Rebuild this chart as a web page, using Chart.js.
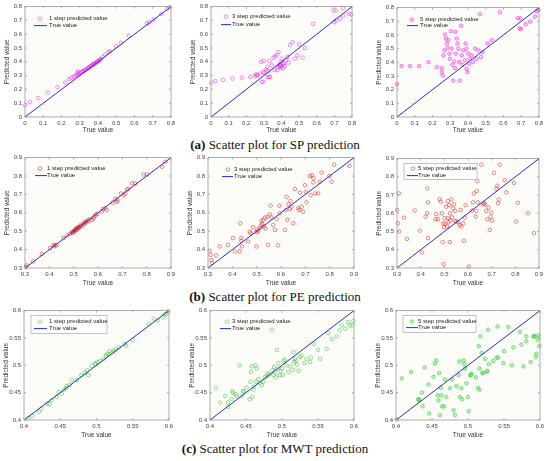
<!DOCTYPE html>
<html><head><meta charset="utf-8">
<script src="https://cdn.jsdelivr.net/npm/chart.js@4.4.0/dist/chart.umd.min.js"></script>
<style>
html,body{margin:0;padding:0;background:#fff;}
#fig{position:relative;width:550px;height:461px;overflow:hidden;background:#fff;}
.panel{position:absolute;}
.cap{position:absolute;left:0;width:550px;text-align:center;font-family:"Liberation Serif","Times New Roman",serif;font-size:13px;color:#111;line-height:14px;white-space:nowrap;}
</style></head><body>
<div id="fig">
<div class="cap" style="top:138px"><b>(a)</b> Scatter plot for SP prediction</div>
<div class="cap" style="top:290px"><b>(b)</b> Scatter plot for PE prediction</div>
<div class="cap" style="top:442px"><b>(c)</b> Scatter plot for MWT prediction</div>
</div>
<script>
// ---------- tick values ----------
const SP_TICKS  = [0,0.1,0.2,0.3,0.4,0.5,0.6,0.7,0.8];
const PE_TICKS  = [0.3,0.4,0.5,0.6,0.7,0.8,0.9];
const MWT_TICKS = [0.4,0.45,0.5,0.55,0.6];

// ---------- series: [true value, predicted value] ----------
const SP_1 = [[0,0.084],[0.027,0.108],[0.073,0.137],[0.125,0.178],[0.178,0.216],[0.22,0.25],[0.242,0.274],[0.253,0.284],[0.266,0.29],[0.275,0.298],[0.288,0.32],[0.298,0.31],[0.31,0.327],[0.32,0.334],[0.33,0.34],[0.342,0.351],[0.353,0.363],[0.36,0.37],[0.372,0.38],[0.381,0.387],[0.394,0.399],[0.403,0.406],[0.412,0.416],[0.425,0.435],[0.44,0.452],[0.458,0.471],[0.467,0.476],[0.5,0.514],[0.526,0.538],[0.568,0.589],[0.668,0.68],[0.681,0.685],[0.705,0.707],[0.747,0.748],[0.778,0.781],[0.793,0.796],
  [0.285,0.305],[0.29,0.332],[0.292,0.315],[0.305,0.318],[0.315,0.33],[0.325,0.336],[0.335,0.345],[0.345,0.355],[0.35,0.358],[0.365,0.372],[0.37,0.376],[0.378,0.383],[0.385,0.39],[0.39,0.395],[0.398,0.402],[0.408,0.41],[0.415,0.42]];
const SP_3 = [[0,0.248],[0.024,0.26],[0.068,0.269],[0.122,0.279],[0.175,0.286],[0.222,0.291],[0.25,0.296],[0.256,0.31],[0.264,0.303],[0.279,0.315],[0.284,0.4],[0.288,0.255],[0.297,0.255],[0.297,0.327],[0.3,0.406],[0.312,0.344],[0.32,0.363],[0.326,0.332],[0.331,0.406],[0.335,0.291],[0.345,0.375],[0.354,0.43],[0.363,0.44],[0.373,0.452],[0.377,0.339],[0.383,0.471],[0.388,0.368],[0.395,0.4],[0.397,0.375],[0.401,0.423],[0.407,0.351],[0.414,0.387],[0.42,0.368],[0.426,0.411],[0.433,0.435],[0.439,0.394],[0.448,0.522],[0.463,0.543],[0.476,0.423],[0.49,0.447],[0.5,0.526],[0.52,0.43],[0.533,0.5],[0.58,0.675],[0.694,0.772],[0.7,0.688],[0.708,0.772],[0.711,0.7],[0.734,0.712],[0.749,0.79],[0.75,0.736],[0.783,0.748],[0.796,0.743],
  [0.26,0.3],[0.3,0.32],[0.32,0.29],[0.33,0.29],[0.39,0.38],[0.395,0.37],[0.4,0.36],[0.41,0.39],[0.36,0.34],[0.38,0.36]];
const SP_5 = [[0,0.241],[0.026,0.372],[0.073,0.372],[0.124,0.372],[0.177,0.401],[0.224,0.365],[0.252,0.357],[0.252,0.328],[0.258,0.303],[0.261,0.451],[0.267,0.488],[0.27,0.603],[0.276,0.574],[0.28,0.537],[0.285,0.505],[0.289,0.562],[0.295,0.463],[0.298,0.426],[0.304,0.628],[0.308,0.5],[0.312,0.382],[0.317,0.266],[0.323,0.406],[0.327,0.357],[0.33,0.623],[0.33,0.463],[0.336,0.574],[0.341,0.537],[0.345,0.5],[0.351,0.401],[0.355,0.266],[0.36,0.667],[0.364,0.451],[0.369,0.382],[0.373,0.488],[0.383,0.414],[0.387,0.537],[0.392,0.5],[0.392,0.352],[0.397,0.328],[0.401,0.463],[0.405,0.389],[0.41,0.426],[0.42,0.451],[0.429,0.401],[0.439,0.5],[0.448,0.426],[0.458,0.488],[0.467,0.751],[0.473,0.438],[0.482,0.475],[0.51,0.537],[0.533,0.562],[0.58,0.766],[0.68,0.722],[0.69,0.648],[0.699,0.643],[0.725,0.677],[0.75,0.697],[0.778,0.734],[0.788,0.771],[0.797,0.783],[0.695,0.722]];

const PE_1 = [[0.863,0.85],[0.877,0.877],[0.788,0.808],[0.801,0.808],[0.74,0.76],[0.753,0.76],[0.719,0.727],[0.712,0.705],[0.694,0.705],[0.705,0.696],[0.671,0.675],[0.678,0.66],[0.636,0.615],[0.616,0.606],[0.598,0.594],[0.582,0.57],[0.575,0.561],[0.561,0.556],[0.547,0.543],[0.534,0.529],[0.524,0.52],[0.513,0.516],[0.506,0.507],[0.499,0.498],[0.492,0.495],[0.485,0.486],[0.472,0.477],[0.458,0.462],[0.424,0.423],[0.417,0.426],[0.403,0.408],[0.369,0.376],[0.334,0.336],[0.307,0.314],[0.304,0.305],
  [0.495,0.49],[0.5,0.497],[0.503,0.505],[0.508,0.503],[0.51,0.512],[0.515,0.51],[0.518,0.52],[0.52,0.523],[0.527,0.525],[0.53,0.535],[0.54,0.538],[0.545,0.55],[0.55,0.548],[0.555,0.556],[0.565,0.565],[0.585,0.58],[0.59,0.59],[0.62,0.62],[0.63,0.625],[0.66,0.655],[0.68,0.67],[0.725,0.73],[0.43,0.425],[0.42,0.418]];
const PE_3 = [[0.307,0.394],[0.311,0.372],[0.314,0.343],[0.316,0.327],[0.334,0.368],[0.348,0.417],[0.382,0.426],[0.403,0.462],[0.41,0.39],[0.43,0.39],[0.433,0.543],[0.437,0.462],[0.437,0.448],[0.44,0.417],[0.465,0.444],[0.472,0.498],[0.475,0.489],[0.485,0.522],[0.499,0.417],[0.499,0.495],[0.502,0.507],[0.506,0.498],[0.513,0.516],[0.517,0.531],[0.52,0.556],[0.523,0.538],[0.527,0.561],[0.529,0.525],[0.534,0.574],[0.536,0.516],[0.543,0.579],[0.547,0.426],[0.554,0.592],[0.557,0.639],[0.561,0.574],[0.568,0.534],[0.575,0.507],[0.582,0.565],[0.588,0.423],[0.593,0.639],[0.595,0.597],[0.616,0.507],[0.62,0.615],[0.623,0.687],[0.626,0.561],[0.63,0.646],[0.637,0.621],[0.639,0.664],[0.643,0.633],[0.65,0.543],[0.657,0.729],[0.671,0.624],[0.675,0.615],[0.678,0.709],[0.685,0.633],[0.69,0.606],[0.698,0.75],[0.702,0.714],[0.705,0.657],[0.719,0.8],[0.722,0.696],[0.727,0.804],[0.733,0.765],[0.733,0.787],[0.74,0.705],[0.753,0.705],[0.76,0.769],[0.767,0.819],[0.799,0.8],[0.808,0.769],[0.818,0.862],[0.881,0.855]];
const PE_5 = [[0.3,0.618],[0.304,0.545],[0.308,0.5],[0.308,0.709],[0.33,0.576],[0.342,0.46],[0.375,0.615],[0.396,0.505],[0.406,0.385],[0.421,0.582],[0.427,0.6],[0.428,0.736],[0.431,0.66],[0.431,0.464],[0.463,0.567],[0.466,0.596],[0.473,0.569],[0.48,0.678],[0.485,0.664],[0.49,0.6],[0.493,0.442],[0.496,0.545],[0.497,0.322],[0.499,0.524],[0.501,0.573],[0.504,0.542],[0.508,0.636],[0.511,0.527],[0.515,0.667],[0.515,0.573],[0.518,0.551],[0.52,0.645],[0.523,0.442],[0.524,0.6],[0.525,0.56],[0.53,0.676],[0.532,0.578],[0.537,0.627],[0.541,0.649],[0.544,0.558],[0.546,0.613],[0.551,0.555],[0.558,0.551],[0.565,0.536],[0.569,0.618],[0.572,0.527],[0.579,0.545],[0.583,0.449],[0.586,0.576],[0.59,0.645],[0.604,0.309],[0.617,0.615],[0.621,0.66],[0.625,0.709],[0.632,0.582],[0.635,0.613],[0.637,0.722],[0.639,0.776],[0.642,0.66],[0.656,0.867],[0.663,0.649],[0.668,0.655],[0.673,0.649],[0.677,0.613],[0.682,0.567],[0.687,0.631],[0.692,0.509],[0.696,0.582],[0.699,0.605],[0.701,0.56],[0.71,0.822],[0.72,0.736],[0.724,0.751],[0.727,0.655],[0.73,0.676],[0.734,0.867],[0.755,0.782],[0.762,0.715],[0.794,0.767],[0.804,0.555],[0.811,0.658],[0.854,0.6],[0.879,0.491]];

const MWT_1 = [[0.406,0.404],[0.411,0.407],[0.421,0.415],[0.424,0.421],[0.432,0.43],[0.435,0.429],[0.438,0.436],[0.445,0.442],[0.448,0.451],[0.452,0.448],[0.455,0.455],[0.458,0.458],[0.459,0.462],[0.463,0.464],[0.466,0.473],[0.473,0.473],[0.479,0.482],[0.484,0.486],[0.487,0.491],[0.489,0.482],[0.493,0.499],[0.498,0.503],[0.499,0.502],[0.501,0.506],[0.505,0.508],[0.51,0.512],[0.513,0.518],[0.515,0.521],[0.517,0.52],[0.518,0.526],[0.522,0.524],[0.524,0.527],[0.527,0.529],[0.531,0.533],[0.539,0.539],[0.541,0.536],[0.55,0.547],[0.572,0.575],[0.579,0.585],[0.585,0.582],[0.592,0.588],[0.594,0.593],[0.596,0.594],[0.599,0.599]];
const MWT_3 = [[0.408,0.459],[0.414,0.432],[0.421,0.444],[0.425,0.424],[0.425,0.432],[0.43,0.438],[0.431,0.453],[0.432,0.45],[0.435,0.447],[0.437,0.444],[0.441,0.5],[0.444,0.444],[0.446,0.453],[0.447,0.452],[0.451,0.459],[0.455,0.438],[0.456,0.47],[0.457,0.488],[0.458,0.498],[0.459,0.442],[0.46,0.456],[0.461,0.461],[0.463,0.5],[0.464,0.47],[0.465,0.494],[0.467,0.475],[0.469,0.467],[0.472,0.464],[0.474,0.47],[0.476,0.478],[0.479,0.48],[0.48,0.485],[0.482,0.483],[0.486,0.565],[0.487,0.491],[0.488,0.482],[0.489,0.497],[0.49,0.488],[0.492,0.478],[0.493,0.528],[0.494,0.494],[0.495,0.504],[0.497,0.482],[0.498,0.49],[0.5,0.494],[0.501,0.482],[0.502,0.508],[0.504,0.51],[0.506,0.5],[0.509,0.488],[0.511,0.498],[0.515,0.492],[0.516,0.524],[0.517,0.506],[0.518,0.512],[0.519,0.508],[0.521,0.501],[0.523,0.49],[0.525,0.515],[0.527,0.518],[0.531,0.504],[0.534,0.512],[0.539,0.506],[0.54,0.514],[0.544,0.539],[0.55,0.528],[0.553,0.512],[0.562,0.53],[0.564,0.559],[0.569,0.548],[0.576,0.553],[0.58,0.564],[0.583,0.573],[0.588,0.567],[0.592,0.579],[0.594,0.573],[0.597,0.573],[0.599,0.581]];
const MWT_5 = [[0.401,0.401],[0.408,0.476],[0.421,0.488],[0.431,0.438],[0.432,0.435],[0.432,0.438],[0.436,0.45],[0.437,0.425],[0.44,0.496],[0.445,0.465],[0.446,0.412],[0.452,0.479],[0.454,0.503],[0.456,0.509],[0.458,0.445],[0.459,0.436],[0.46,0.486],[0.461,0.409],[0.462,0.459],[0.463,0.445],[0.464,0.425],[0.467,0.425],[0.468,0.474],[0.47,0.442],[0.475,0.458],[0.478,0.474],[0.48,0.418],[0.482,0.409],[0.484,0.462],[0.487,0.482],[0.488,0.507],[0.489,0.442],[0.491,0.458],[0.492,0.438],[0.494,0.509],[0.495,0.502],[0.496,0.494],[0.498,0.467],[0.5,0.442],[0.501,0.416],[0.503,0.482],[0.504,0.482],[0.505,0.485],[0.511,0.478],[0.514,0.459],[0.515,0.535],[0.516,0.494],[0.516,0.455],[0.517,0.553],[0.519,0.523],[0.52,0.486],[0.521,0.486],[0.524,0.512],[0.526,0.488],[0.527,0.49],[0.528,0.565],[0.529,0.502],[0.535,0.508],[0.54,0.514],[0.541,0.571],[0.542,0.514],[0.549,0.504],[0.55,0.526],[0.556,0.57],[0.561,0.5],[0.563,0.533],[0.572,0.561],[0.574,0.538],[0.577,0.498],[0.581,0.553],[0.581,0.544],[0.587,0.506],[0.591,0.553],[0.592,0.553],[0.593,0.553],[0.594,0.515],[0.595,0.521],[0.597,0.547],[0.598,0.555],[0.599,0.535]];

// ---------- panel layout & style ----------
const MAG = 'rgba(235,40,235,0.75)', MAG_F = 'rgba(255,90,255,0.35)';
const RED = 'rgba(225,30,30,0.75)';
const GRN = 'rgba(60,200,60,0.8)', GRN_F = 'rgba(90,230,90,0.4)';
const panels = [
  {d:SP_1, t:SP_TICKS, lab:'1 step predicted value', c:MAG, f:'rgba(0,0,0,0)', r:[25,6,171,117], xh:17, lg:{m:[15,12],tx:24,l:[9,22,19]}},
  {d:SP_3, t:SP_TICKS, lab:'3 step predicted value', c:MAG, f:'rgba(0,0,0,0)', r:[211,6,352,117], xh:17, lg:{m:[15,10],tx:21,l:[10,20,18]}},
  {d:SP_5, t:SP_TICKS, lab:'5 step predicted value', c:MAG, f:MAG_F, r:[397,7,539,117], xh:17, lg:{m:[15,12],tx:23,l:[10,21,18]}},
  {d:PE_1, t:PE_TICKS, lab:'1 step predicted value', c:RED, f:'rgba(0,0,0,0)', r:[25,157,171,268], xh:19, lg:{m:[15,11],tx:22,l:[10,22,18]}},
  {d:PE_3, t:PE_TICKS, lab:'3 step predicted value', c:RED, f:'rgba(0,0,0,0)', r:[208,157,354,268], xh:19, lg:{m:[20,12],tx:26,l:[14,25,19]}},
  {d:PE_5, t:PE_TICKS, lab:'5 step predicted value', c:RED, f:'rgba(0,0,0,0)', r:[397,158,539,268], xh:19, lg:{m:[16,10],tx:21,l:[10,21,17],box:[7,5,80,21]}},
  {d:MWT_1, t:MWT_TICKS, lab:'1 step predicted value', c:GRN, f:'rgba(0,0,0,0)', r:[24,310,169,420], xh:19, lg:{m:[16,11],tx:25,l:[10,23,18],box:[7,5,83,23]}},
  {d:MWT_3, t:MWT_TICKS, lab:'3 step predicted value', c:GRN, f:'rgba(0,0,0,0)', r:[210,310,354,420], xh:19, lg:{m:[17,11],tx:22,l:[10,21,18]}},
  {d:MWT_5, t:MWT_TICKS, lab:'5 step predicted value', c:GRN, f:GRN_F, r:[396,310,540,420], xh:19, lg:{m:[16,11],tx:22,l:[10,22,17],box:[7,5,80,22]}}
];

Chart.defaults.font.family = '"Liberation Sans", Arial, sans-serif';
const LINE_C = '#2a2ad8';
const PR = 1.8;

const framePlugin = {
  id:'frame',
  beforeDatasetsDraw(chart){
    const a = chart.chartArea, ctx = chart.ctx;
    ctx.save(); ctx.fillStyle = '#fcfdf8'; ctx.fillRect(a.left, a.top, a.right-a.left, a.bottom-a.top); ctx.restore();
  },
  afterDraw(chart){
    const a = chart.chartArea, ctx = chart.ctx, p = chart.options.plugins.frame;
    ctx.save();
    ctx.strokeStyle = '#9a9a9a'; ctx.lineWidth = 0.8;
    ctx.strokeRect(a.left, a.top, a.right-a.left, a.bottom-a.top);
    const xs = chart.scales.x, ys = chart.scales.y, tl = 2;
    ctx.beginPath();
    xs.ticks.forEach(t=>{const px = xs.getPixelForValue(t.value); ctx.moveTo(px,a.bottom); ctx.lineTo(px,a.bottom-tl); ctx.moveTo(px,a.top); ctx.lineTo(px,a.top+tl);});
    ys.ticks.forEach(t=>{const py = ys.getPixelForValue(t.value); ctx.moveTo(a.left,py); ctx.lineTo(a.left+tl,py); ctx.moveTo(a.right,py); ctx.lineTo(a.right-tl,py);});
    ctx.stroke();
    // legend inside axes
    const g = p.lg, L = a.left, T = a.top;
    if (g.box){ ctx.fillStyle = '#fff'; ctx.fillRect(L+g.box[0], T+g.box[1], g.box[2]-g.box[0], g.box[3]-g.box[1]); ctx.strokeStyle='#a8a8a8'; ctx.lineWidth=0.7; ctx.strokeRect(L+g.box[0], T+g.box[1], g.box[2]-g.box[0], g.box[3]-g.box[1]); }
    ctx.beginPath(); ctx.arc(L+g.m[0], T+g.m[1], PR, 0, Math.PI*2);
    ctx.fillStyle = p.f; ctx.fill(); ctx.strokeStyle = p.c; ctx.lineWidth = 0.7; ctx.stroke();
    ctx.beginPath(); ctx.moveTo(L+g.l[0], T+g.l[2]); ctx.lineTo(L+g.l[1], T+g.l[2]); ctx.strokeStyle = LINE_C; ctx.lineWidth = 1; ctx.stroke();
    ctx.fillStyle = '#222'; ctx.font = '6px "Liberation Sans", Arial, sans-serif'; ctx.textBaseline = 'middle'; ctx.textAlign = 'left';
    ctx.fillText(p.lab, L+g.tx, T+g.m[1]);
    ctx.fillText('True value', L+g.tx, T+g.l[2]);
    ctx.restore();
  }
};

const fig = document.getElementById('fig');
const YW = 25, RP = 8, TP = 6;
panels.forEach(p=>{
  const left = p.r[0]-YW, top = p.r[1]-TP;
  const w = p.r[2]-p.r[0]+YW+RP, h = p.r[3]-p.r[1]+TP+p.xh;
  const div = document.createElement('div'); div.className = 'panel';
  div.style.cssText = `left:${left}px;top:${top}px;width:${w}px;height:${h}px;`;
  const cv = document.createElement('canvas'); div.appendChild(cv); fig.appendChild(div);
  const lo = p.t[0], hi = p.t[p.t.length-1];
  const tickFont = {size:6};
  const axisCommon = (titleText, isY) => ({
    type:'linear', min:lo, max:hi,
    afterBuildTicks: s => { s.ticks = p.t.map(v=>({value:v})); },
    afterFit: s => { if (isY) s.width = YW; else s.height = p.xh; },
    grid:{display:false, drawTicks:false}, border:{display:false},
    ticks:{padding:3, font:tickFont, color:'#444', autoSkip:false, maxRotation:0, callback:(v)=>String(v)},
    title:{display:true, text:titleText, color:'#333', font:{size:6.5}, padding: isY ? {top:3.3, bottom:0} : {top:0, bottom:0}}
  });
  new Chart(cv, {
    type:'scatter',
    data:{datasets:[
      {label:p.lab, data:p.d.map(q=>({x:q[0], y:q[1]})), pointRadius:PR, pointHoverRadius:PR, pointBorderWidth:0.7, pointBorderColor:p.c, pointBackgroundColor:p.f, showLine:false, clip:false, order:2},
      {label:'True value', type:'line', data:[{x:lo,y:lo},{x:hi,y:hi}], borderColor:LINE_C, borderWidth:1, pointRadius:0, fill:false, order:1}
    ]},
    options:{
      responsive:true, maintainAspectRatio:false, animation:false, events:[],
      layout:{padding:{top:TP, right:RP, left:0, bottom:0}},
      plugins:{legend:{display:false}, tooltip:{enabled:false}, frame:{lg:p.lg, lab:p.lab, c:p.c, f:p.f}},
      scales:{ x: axisCommon('True value', false), y: axisCommon('Predicted value', true) }
    },
    plugins:[framePlugin]
  });
});
</script>
</body></html>
